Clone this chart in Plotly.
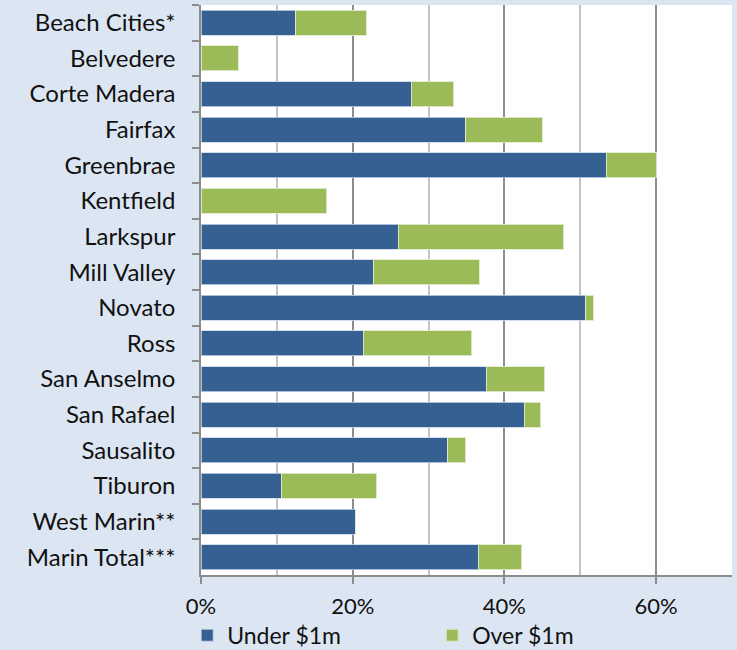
import plotly.graph_objects as go

categories = ["Beach Cities*", "Belvedere", "Corte Madera", "Fairfax", "Greenbrae",
              "Kentfield", "Larkspur", "Mill Valley", "Novato", "Ross", "San Anselmo",
              "San Rafael", "Sausalito", "Tiburon", "West Marin**", "Marin Total***"]
under_1m = [0.125, 0.0, 0.277, 0.349, 0.534, 0.0, 0.260, 0.228, 0.507, 0.214, 0.377,
            0.426, 0.325, 0.106, 0.204, 0.366]
over_1m = [0.093, 0.049, 0.056, 0.101, 0.066, 0.166, 0.218, 0.139, 0.010, 0.143, 0.076,
           0.022, 0.024, 0.126, 0.0, 0.057]
x_ticks = [0, 0.2, 0.4, 0.6]
x_tick_labels = ["0%", "20%", "40%", "60%"]

FONT = "Lato, 'Open Sans', sans-serif"

fig = go.Figure()
fig.add_trace(go.Bar(y=categories, x=under_1m, name="Under $1m", orientation="h",
                     marker=dict(color="#366092", line=dict(color="rgba(200,215,235,0.8)", width=1))))
fig.add_trace(go.Bar(y=categories, x=over_1m, name="Over $1m", orientation="h",
                     marker=dict(color="#9bbb59", line=dict(color="rgba(225,235,205,0.9)", width=1))))

fig.update_layout(
    width=737, height=650,
    barmode="stack", bargap=0.3,
    paper_bgcolor="#dce6f2", plot_bgcolor="white",
    margin=dict(l=201, r=5, t=5, b=75, autoexpand=False),
    font=dict(family=FONT, size=22, color="#111111"),
    showlegend=True,
    legend=dict(orientation="h", x=-0.026, xanchor="left", y=-0.068, yanchor="top",
                font=dict(size=23), itemwidth=30, traceorder="normal",
                entrywidthmode="pixels", entrywidth=200, bgcolor="rgba(0,0,0,0)"),
)
fig.update_xaxes(range=[0, 0.70], tickvals=x_ticks, ticktext=x_tick_labels,
                 showgrid=True, gridcolor="#8c8c8c", gridwidth=1.5,
                 minor=dict(dtick=0.1, tick0=0, showgrid=True, gridcolor="#c4c4c4", gridwidth=1.5, ticks=""),
                 showline=True, linecolor="#8c8c8c", linewidth=1.5,
                 ticks="outside", ticklen=7, tickcolor="#8c8c8c", tickwidth=1.5,
                 ticklabelstandoff=4,
                 tickfont=dict(size=22), zeroline=False, automargin=False)
fig.update_yaxes(autorange="reversed", type="category", tickson="boundaries",
                 showline=True, linecolor="#8c8c8c", linewidth=1.5,
                 ticks="outside", ticklen=7, tickcolor="#8c8c8c", tickwidth=1.5,
                 ticklabelstandoff=19, tickfont=dict(size=24), showgrid=False, automargin=False)

fig.write_html("out.html", config={"displayModeBar": False},
               post_script="document.body.style.margin='0';")
